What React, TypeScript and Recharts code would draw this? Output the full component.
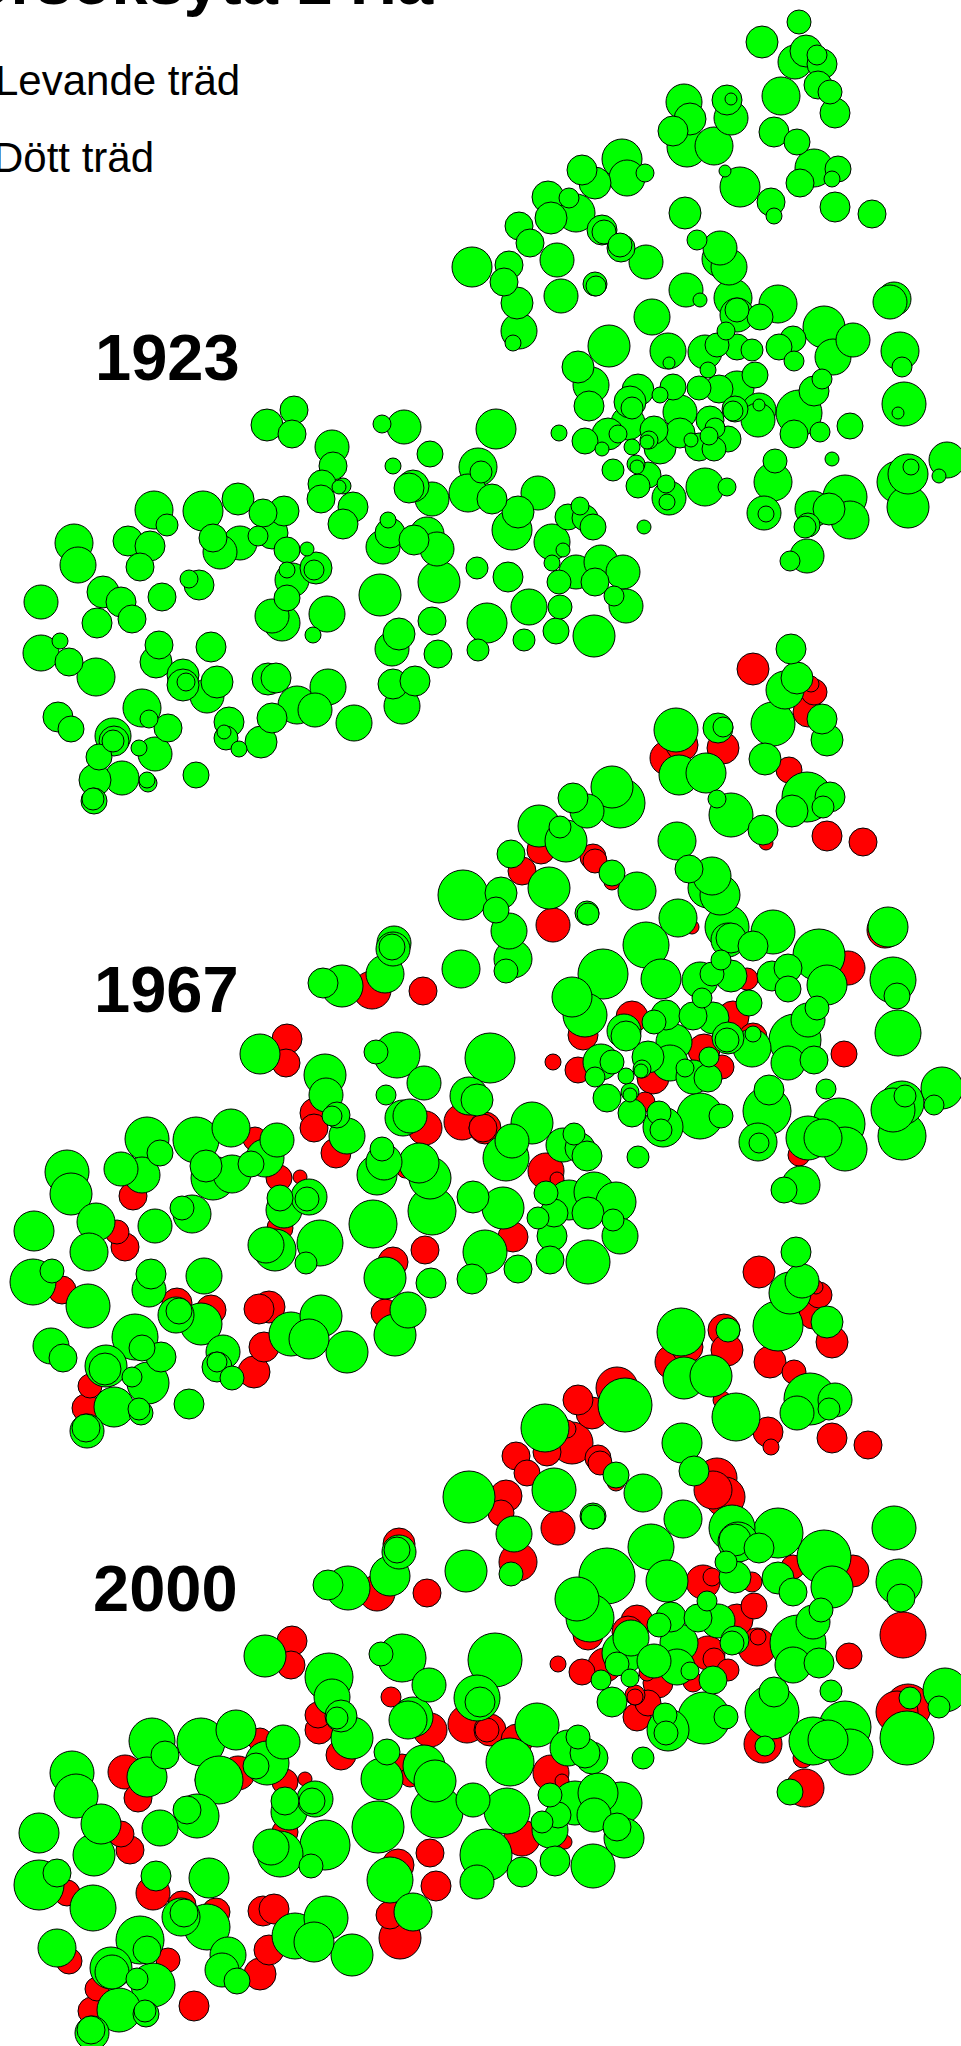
import { ScatterChart, Scatter, XAxis, YAxis, ZAxis } from 'recharts'

// each tree is [x, y, crown radius]
type Tree = [number, number, number]

const living1923: Tree[] = [
  [799,22,12],[762,42,16],[795,62,17],[806,51,16],[822,64,15],[817,55,10],[818,85,14],[830,92,12],[781,96,19],[835,113,15],
  [684,102,18],[727,100,15],[731,99,6],[731,118,17],[690,119,16],[673,131,15],[687,147,20],[714,146,19],[774,132,15],[797,142,13],
  [814,168,19],[838,169,13],[800,183,14],[832,179,8],[740,187,20],[725,171,6],[771,202,14],[774,216,8],[835,207,15],[872,214,14],
  [685,213,16],[622,159,20],[627,178,18],[595,183,16],[582,170,15],[645,173,9],[548,197,16],[569,198,10],[576,213,19],[551,218,16],
  [519,226,14],[530,243,14],[602,230,15],[604,232,12],[621,248,14],[620,245,12],[646,262,17],[557,260,17],[472,267,20],[509,265,14],
  [504,282,14],[517,303,16],[561,296,17],[595,284,12],[596,286,10],[697,240,10],[720,248,17],[720,259,18],[729,267,18],[686,290,17],
  [700,300,7],[519,331,18],[513,343,8],[652,317,18],[733,298,19],[737,315,17],[737,310,12],[778,304,19],[760,317,13],[726,331,9],
  [824,327,21],[853,340,17],[833,357,18],[793,339,13],[779,347,13],[794,361,10],[894,299,17],[890,302,17],[900,351,19],[902,367,10],
  [904,404,22],[898,413,6],[609,346,21],[578,367,16],[591,385,18],[589,406,15],[496,429,20],[559,433,8],[585,441,13],[602,449,7],
  [608,434,16],[618,434,9],[638,390,16],[630,402,16],[632,408,11],[628,423,17],[668,351,18],[669,363,6],[705,352,17],[717,345,12],
  [737,347,13],[752,350,11],[708,370,8],[755,375,13],[737,388,17],[699,388,12],[719,389,14],[673,387,13],[660,395,8],[680,412,17],
  [680,433,15],[654,430,14],[660,448,16],[647,442,7],[649,440,9],[632,447,8],[710,420,14],[715,428,10],[728,439,13],[709,436,9],
  [699,447,14],[714,449,12],[691,440,7],[735,409,13],[733,411,10],[759,410,17],[759,405,6],[758,420,17],[799,413,23],[814,391,15],
  [822,379,10],[794,434,14],[820,432,10],[850,426,13],[832,459,7],[947,460,18],[939,476,7],[898,482,21],[908,474,20],[911,467,8],
  [908,507,21],[613,470,11],[636,464,9],[637,467,7],[648,475,13],[638,486,12],[666,484,9],[669,498,17],[667,502,8],[705,487,19],
  [727,487,9],[775,461,12],[773,482,19],[764,513,17],[766,514,8],[813,509,18],[845,497,22],[829,509,16],[850,520,19],[808,525,12],
  [805,527,11],[807,556,17],[790,561,10],[644,527,7],[538,493,17],[492,499,15],[518,512,16],[512,530,20],[568,517,13],[580,506,9],
  [585,518,13],[593,527,13],[552,542,18],[563,550,7],[552,563,8],[576,572,17],[601,562,17],[623,572,17],[595,582,14],[559,582,12],
  [508,577,15],[529,607,18],[524,640,11],[556,631,13],[560,607,12],[594,636,21],[626,606,17],[614,596,10],
  [294,410,14],[267,425,16],[292,434,14],[332,447,17],[333,466,14],[404,427,17],[382,424,9],[430,454,13],[393,466,8],
  [478,467,19],[481,472,11],[468,493,19],[432,499,17],[409,488,15],[413,486,16],[322,484,14],[343,486,8],[339,487,7],[321,499,14],
  [353,507,15],[343,524,15],[154,510,19],[167,525,11],[203,511,20],[238,499,16],[263,513,14],[284,511,15],[272,533,16],[258,536,10],
  [240,543,17],[213,538,14],[220,552,17],[287,550,13],[307,549,7],[316,568,16],[314,570,10],[292,580,17],[287,570,8],[287,598,13],
  [272,616,17],[282,623,18],[327,614,18],[313,635,8],[388,520,8],[390,533,15],[383,547,17],[427,534,17],[414,540,15],[437,549,17],
  [439,582,21],[380,595,21],[477,568,11],[432,621,14],[487,623,20],[478,650,11],[399,634,16],[392,649,17],[438,654,14],[393,684,15],
  [415,681,15],[402,706,18],[74,543,19],[78,565,18],[128,541,15],[150,546,15],[140,567,14],[162,597,14],[199,585,15],[189,579,9],
  [41,602,17],[103,592,16],[121,602,15],[132,619,14],[97,623,15],[41,653,18],[60,641,8],[69,662,14],[96,677,19],[159,645,14],
  [156,662,16],[211,647,15],[183,675,16],[183,685,16],[186,682,9],[207,696,17],[217,682,16],[268,679,16],[276,678,15],[297,705,19],
  [328,687,18],[315,710,17],[354,723,18],[272,718,15],[261,742,16],[229,722,15],[226,738,12],[224,732,7],[239,749,8],[58,717,15],
  [71,729,13],[142,708,19],[149,719,9],[168,728,14],[155,754,17],[139,748,8],[113,736,18],[114,741,15],[113,741,11],[99,757,13],
  [95,780,16],[122,778,17],[147,780,8],[148,783,9],[196,775,13],[94,801,13],[93,799,11],
]

const dead1967: Tree[] = [
  [753,669,16],[814,692,13],[811,684,8],[808,712,15],[789,770,13],[827,836,15],[863,842,14],[667,758,17],[682,745,16],[723,748,16],
  [766,843,7],[541,850,14],[593,857,13],[595,861,12],[612,882,8],[522,871,14],[553,925,17],[692,927,7],[885,930,18],[747,979,11],
  [848,968,17],[583,1035,15],[733,1017,16],[632,1017,16],[753,1037,14],[704,1050,16],[722,1067,12],[844,1054,13],[553,1062,8],[578,1070,13],
  [653,1078,16],[645,1102,10],[799,1155,11],[485,1128,16],[546,1171,18],[557,1179,7],[372,990,19],[423,991,14],[287,1039,15],[286,1063,14],
  [315,1113,15],[314,1128,14],[336,1153,15],[425,1128,17],[462,1122,18],[483,1128,14],[405,1170,8],[255,1139,12],[133,1196,14],[279,1178,13],
  [300,1177,7],[280,1228,13],[425,1250,14],[393,1262,15],[385,1313,14],[117,1232,12],[125,1247,14],[62,1290,14],[177,1303,15],[211,1310,15],
  [259,1309,15],[269,1307,16],[264,1347,15],[254,1372,16],[90,1386,12],[86,1408,14],[513,1237,15],
]

const living1967: Tree[] = [
  [791,649,15],[785,690,19],[797,678,16],[822,719,15],[827,740,16],[773,724,22],[765,759,16],[807,797,25],[830,797,15],[823,807,11],
  [792,811,16],[676,730,22],[718,728,15],[723,727,10],[679,775,20],[706,773,20],[717,799,9],[731,815,22],[763,830,15],[612,787,21],
  [620,803,25],[587,811,17],[573,798,15],[539,826,21],[566,841,21],[560,827,11],[612,873,13],[637,891,19],[511,854,14],[549,888,21],
  [501,893,16],[496,910,13],[509,931,18],[587,913,12],[588,914,11],[677,841,19],[689,869,14],[712,876,19],[708,888,20],[720,895,20],
  [678,918,19],[727,927,22],[773,932,22],[646,945,23],[819,955,26],[888,927,20],[731,938,15],[728,940,17],[753,946,15],[721,960,10],
  [712,974,12],[731,976,16],[700,980,18],[772,976,15],[788,968,14],[788,989,13],[827,985,20],[893,980,23],[897,996,13],[898,1033,23],
  [603,974,25],[572,997,20],[585,1015,22],[661,979,20],[702,998,10],[749,1003,13],[713,1018,16],[693,1016,14],[666,1015,15],[654,1022,12],
  [624,1031,17],[626,1036,15],[674,1042,18],[648,1057,16],[670,1063,18],[753,1034,8],[752,1048,19],[728,1038,16],[727,1040,12],[709,1057,10],
  [708,1078,14],[693,1077,17],[685,1068,9],[795,1040,26],[808,1020,17],[817,1008,12],[788,1063,17],[814,1060,14],[490,1058,25],[601,1062,18],
  [612,1062,12],[595,1077,10],[626,1076,8],[642,1069,9],[641,1071,7],[607,1098,14],[630,1092,9],[630,1095,7],[632,1113,14],[659,1113,12],
  [663,1127,20],[661,1130,11],[700,1116,23],[721,1116,12],[769,1090,15],[767,1111,24],[758,1142,19],[759,1143,10],[826,1089,10],[942,1088,21],
  [934,1105,10],[902,1103,22],[893,1110,22],[905,1096,11],[902,1136,24],[808,1138,22],[839,1124,26],[823,1138,19],[845,1149,22],[801,1185,19],
  [784,1190,13],[638,1157,11],[532,1123,21],[512,1141,17],[506,1158,23],[563,1145,17],[574,1134,11],[580,1148,15],[587,1156,15],[546,1193,12],
  [569,1200,20],[594,1192,20],[616,1202,20],[588,1213,16],[554,1213,14],[503,1208,21],[538,1218,11],[613,1220,11],[513,959,19],[506,971,12],
  [620,1236,18],[588,1262,22],[552,1236,15],[550,1260,14],[518,1269,14],
  [323,983,15],[342,986,21],[385,974,19],[394,943,17],[393,949,17],[392,947,13],[461,969,19],[463,895,25],[260,1054,20],[397,1055,23],
  [376,1052,12],[424,1083,17],[386,1095,10],[325,1075,21],[326,1095,17],[337,1115,13],[332,1116,10],[347,1136,18],[410,1116,17],[403,1118,18],
  [469,1096,19],[477,1100,16],[382,1149,12],[384,1162,18],[377,1175,20],[419,1163,20],[430,1178,21],[147,1139,22],[160,1153,13],[196,1140,23],
  [231,1128,19],[277,1140,17],[265,1158,19],[206,1166,16],[251,1164,13],[232,1174,19],[67,1172,22],[121,1169,17],[142,1175,18],[71,1194,21],
  [213,1178,22],[280,1198,13],[284,1210,18],[309,1197,18],[307,1199,12],[266,1245,18],[275,1250,21],[320,1243,23],[306,1263,11],[373,1224,24],
  [432,1211,24],[473,1197,16],[485,1252,22],[472,1279,15],[385,1278,21],[431,1283,15],[408,1310,18],[395,1335,21],[34,1231,20],[96,1222,19],
  [89,1252,19],[155,1226,17],[192,1214,19],[182,1208,12],[33,1282,23],[52,1271,12],[88,1306,22],[151,1274,15],[149,1290,17],[204,1276,18],
  [176,1315,18],[179,1311,13],[201,1324,21],[291,1334,22],[321,1316,21],[309,1339,20],[347,1352,21],[223,1352,17],[217,1367,15],[217,1362,10],
  [232,1378,12],[51,1346,18],[63,1358,14],[135,1337,23],[142,1348,13],[161,1357,15],[106,1366,21],[105,1369,16],[132,1377,10],[148,1383,21],
  [114,1407,20],[141,1413,12],[139,1409,11],[189,1404,15],[87,1431,17],[86,1428,14],
]

const dead2000: Tree[] = [
  [759,1272,16],[819,1295,13],[816,1287,7],[813,1315,14],[832,1342,16],[770,1362,16],[794,1372,12],[832,1438,15],[868,1445,14],[672,1362,17],
  [687,1347,16],[724,1330,16],[727,1350,16],[722,1400,9],[768,1432,15],[771,1447,8],[617,1388,21],[578,1400,15],[592,1413,16],[572,1443,21],
  [567,1429,9],[547,1452,14],[516,1456,14],[527,1473,13],[598,1458,13],[600,1463,12],[616,1482,9],[506,1496,16],[501,1513,13],[558,1528,17],
  [717,1478,20],[713,1490,19],[725,1497,20],[518,1562,19],[588,1635,15],[703,1582,17],[712,1577,9],[752,1582,10],[793,1567,12],[853,1571,16],
  [903,1635,23],[754,1606,13],[737,1620,16],[637,1621,16],[628,1632,16],[757,1647,19],[758,1637,8],[708,1653,17],[714,1659,11],[728,1670,11],
  [693,1682,10],[849,1656,13],[558,1664,8],[582,1672,13],[605,1665,17],[658,1683,15],[647,1673,8],[635,1695,10],[635,1697,8],[648,1703,13],
  [637,1717,14],[763,1744,19],[908,1707,23],[897,1712,21],[803,1758,10],[805,1788,19],[490,1730,16],[517,1740,16],[551,1773,18],[562,1781,7],
  [292,1641,15],[291,1665,14],[391,1697,10],[318,1715,13],[319,1730,14],[341,1755,15],[430,1730,17],[467,1724,19],[487,1730,12],[402,1767,13],
  [410,1777,10],[430,1853,14],[398,1865,16],[436,1886,15],[390,1915,14],[400,1938,21],[125,1772,17],[138,1798,14],[260,1740,12],[238,1773,17],
  [207,1780,12],[285,1782,13],[305,1779,7],[285,1832,13],[121,1834,13],[130,1850,14],[67,1893,13],[153,1893,17],[182,1905,14],[216,1912,14],
  [263,1911,15],[274,1909,15],[269,1950,15],[260,1974,16],[69,1961,13],[168,1960,12],[97,1989,12],[92,2011,14],[194,2006,15],
  [377,1593,18],[399,1544,16],[427,1593,14],[522,1838,18],[565,1842,7],
]

const living2000: Tree[] = [
  [796,1252,15],[790,1293,21],[802,1281,17],[827,1322,16],[778,1326,25],[810,1399,26],[835,1400,17],[829,1409,11],[797,1413,17],[681,1332,24],
  [728,1330,12],[684,1378,21],[711,1376,21],[736,1417,24],[625,1405,27],[545,1428,24],[616,1475,13],[643,1493,19],[554,1490,22],[593,1516,13],
  [593,1517,12],[682,1443,20],[694,1471,15],[683,1519,19],[732,1528,23],[778,1533,25],[894,1528,22],[514,1534,18],[511,1574,12],[607,1576,28],
  [577,1599,22],[590,1618,24],[651,1547,23],[667,1581,21],[735,1540,16],[738,1542,20],[759,1548,15],[726,1562,11],[735,1577,16],[778,1578,16],
  [793,1592,14],[824,1557,27],[832,1587,21],[899,1582,23],[901,1598,14],[707,1601,10],[698,1618,14],[718,1621,17],[671,1617,15],[659,1625,12],
  [631,1638,18],[679,1643,19],[654,1661,17],[677,1667,18],[690,1671,9],[735,1640,14],[732,1643,12],[713,1680,14],[798,1643,28],[813,1622,17],
  [821,1610,12],[793,1665,18],[819,1663,15],[495,1660,27],[623,1653,21],[617,1664,12],[601,1680,10],[630,1678,9],[612,1702,15],[665,1715,12],
  [668,1730,21],[666,1733,12],[704,1718,26],[726,1717,12],[774,1692,15],[772,1712,27],[765,1746,10],[831,1691,11],[945,1690,22],[939,1707,11],
  [910,1698,11],[907,1738,27],[813,1741,24],[845,1727,26],[828,1740,20],[850,1752,23],[790,1792,13],[643,1758,11],[537,1725,22],[510,1762,24],
  [568,1748,18],[578,1737,12],[585,1753,15],[592,1758,16],[550,1795,12],[575,1803,22],[598,1793,20],[621,1803,21],[594,1815,17],[558,1815,13],
  [507,1811,23],[617,1827,14],[624,1838,20],[593,1866,22],[542,1822,11],[550,1830,18],[555,1861,15],[522,1872,15],
  [469,1497,26],[328,1585,15],[348,1588,22],[390,1576,20],[399,1552,17],[397,1550,13],[466,1571,21],
  [265,1656,21],[402,1658,24],[381,1654,12],[429,1685,17],[329,1677,24],[332,1697,18],[341,1716,16],[337,1718,11],
  [352,1738,21],[413,1717,20],[408,1720,19],[477,1698,23],[480,1702,15],[387,1752,13],[382,1779,21],[424,1766,21],[435,1781,21],[437,1812,26],
  [378,1827,26],[473,1800,17],[486,1855,26],[477,1882,17],[390,1880,23],[413,1912,19],[152,1741,23],[165,1755,14],[147,1777,20],[201,1742,24],
  [236,1730,20],[283,1742,17],[267,1763,22],[256,1766,13],[219,1780,24],[285,1801,14],[289,1812,18],[315,1799,18],[312,1801,13],[271,1847,18],
  [280,1854,23],[325,1845,25],[311,1866,12],[72,1773,22],[76,1796,22],[101,1824,20],[94,1855,21],[160,1828,18],[197,1816,22],[187,1810,14],
  [39,1833,20],[39,1885,25],[57,1873,14],[93,1908,23],[156,1876,15],[209,1878,20],[181,1917,19],[184,1913,14],[207,1927,23],[295,1936,23],
  [326,1918,22],[314,1942,20],[352,1955,21],[228,1955,18],[222,1970,17],[237,1981,13],[57,1948,19],[140,1940,24],[147,1950,14],[111,1968,21],
  [112,1972,17],[137,1979,11],[153,1985,22],[119,2010,22],[146,2014,13],[145,2011,11],[92,2033,17],[91,2030,14],
]

// z is the symbol area, big crowns go first so small ones stay visible on top
const toPoints = (trees: Tree[]) =>
  [...trees]
    .sort((a, b) => b[2] - a[2])
    .map(([x, y, r]) => ({ x, y, z: Math.PI * r * r }))

const WIDTH = 961
const HEIGHT = 2046
const MAX_AREA = 3000

const series = [
  { name: 'Levande träd 1923', trees: living1923, fill: '#00ff00' },
  { name: 'Dött träd 1967', trees: dead1967, fill: '#ff0000' },
  { name: 'Levande träd 1967', trees: living1967, fill: '#00ff00' },
  { name: 'Dött träd 2000', trees: dead2000, fill: '#ff0000' },
  { name: 'Levande träd 2000', trees: living2000, fill: '#00ff00' },
]

export default function App() {
  return (
    <div style={{ position: 'absolute', left: 0, top: 0, width: WIDTH, height: HEIGHT, overflow: 'hidden', background: '#fff' }}>
      <ScatterChart width={WIDTH} height={HEIGHT} margin={{ top: 0, right: 0, bottom: 0, left: 0 }}>
        <XAxis type="number" dataKey="x" domain={[0, WIDTH]} hide />
        <YAxis type="number" dataKey="y" domain={[0, HEIGHT]} reversed hide />
        <ZAxis type="number" dataKey="z" domain={[0, MAX_AREA]} range={[0, MAX_AREA]} />
        {series.map(s => (
          <Scatter
            key={s.name}
            name={s.name}
            data={toPoints(s.trees)}
            fill={s.fill}
            stroke="#000"
            strokeWidth={1}
            isAnimationActive={false}
          />
        ))}
      </ScatterChart>
      <svg width={WIDTH} height={HEIGHT} style={{ position: 'absolute', left: 0, top: 0, pointerEvents: 'none' }}>
        <g fontFamily="Liberation Sans, Arial, sans-serif" fill="#000">
          <text x={-69} y={4} fontSize={65} fontWeight="bold">Försöksyta 1 Ha</text>
          <text x={-5} y={95} fontSize={42}>Levande träd</text>
          <text x={-7} y={172} fontSize={42}>Dött träd</text>
          <text x={95} y={380} fontSize={65} fontWeight="bold">1923</text>
          <text x={94} y={1012} fontSize={65} fontWeight="bold">1967</text>
          <text x={93} y={1611} fontSize={65} fontWeight="bold">2000</text>
        </g>
      </svg>
    </div>
  )
}
